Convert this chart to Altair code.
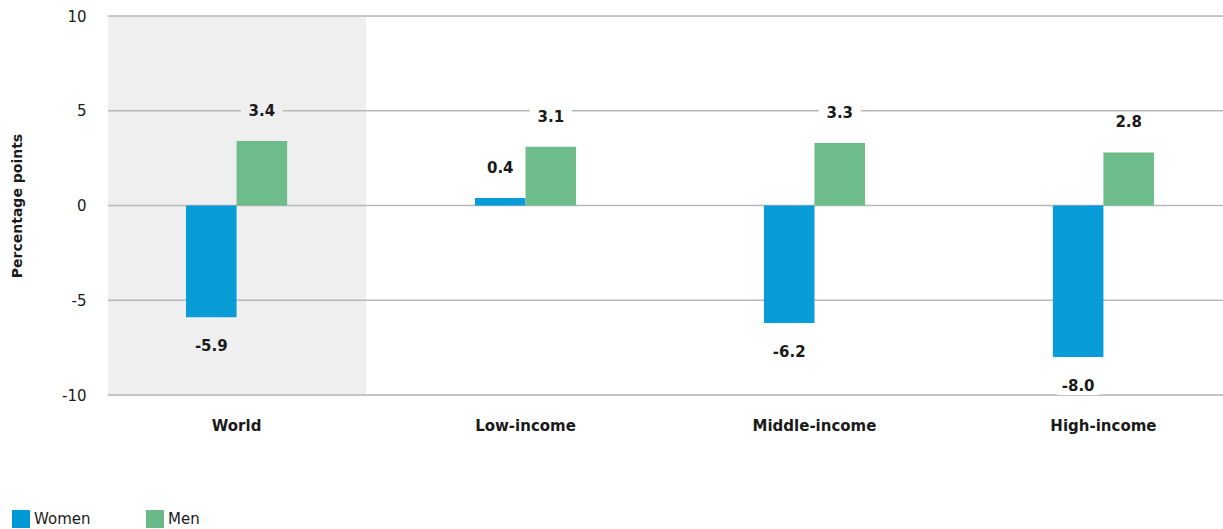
import altair as alt
import pandas as pd

groups = ["World", "Low-income", "Middle-income", "High-income"]
women = [-5.9, 0.4, -6.2, -8.0]
men = [3.4, 3.1, 3.3, 2.8]
y_ticks = [-10, -5, 0, 5, 10]

rows = []
for g, w, m in zip(groups, women, men):
    rows.append({"group": g, "sex": "Women", "value": w})
    rows.append({"group": g, "sex": "Men", "value": m})
df = pd.DataFrame(rows)
grid_df = pd.DataFrame({"tick": y_ticks})

W, H = 1115, 379
FONT = "DejaVu Sans"
BLUE = "#0099D8"
GREEN = "#69BA88"
TXT = "#1a1a1a"

x_enc = alt.X("group:N", sort=groups,
              scale=alt.Scale(paddingInner=0.65, paddingOuter=0.27, range=[0, 1124]),
              axis=alt.Axis(labelAngle=0, labelFontWeight="bold", labelFontSize=15,
                            labelFont=FONT, labelColor=TXT, ticks=False, domain=False,
                            labelPadding=23, grid=False),
              title=None)
y_scale = alt.Scale(domain=[-10, 10], nice=False, zero=True)
y_enc = alt.Y("value:Q", scale=y_scale,
              axis=alt.Axis(values=y_ticks, grid=False, ticks=False, domain=False,
                            labelFontSize=15, labelFont=FONT, labelColor=TXT,
                            labelExpr="replace(datum.label, '\u2212', '-')",
                            labelPadding=22, title="Percentage points",
                            titleFont=FONT, titleFontSize=14, titleFontWeight="bold",
                            titleColor=TXT, titleX=-84, titleY=H / 2))
xoff = alt.XOffset("sex:N", sort=["Women", "Men"])

bg = alt.Chart(df).mark_rect(color="#efefef").encode(
    x=alt.value(0), x2=alt.value(258), y=alt.value(0), y2=alt.value(H)
)

grid = alt.Chart(grid_df).mark_rule(color="#b8b8b8", strokeWidth=1.3).encode(
    y=alt.Y("tick:Q", scale=y_scale), x=alt.value(0), x2=alt.value(W)
)

bars = alt.Chart(df).mark_bar(opacity=0.97).encode(
    x=x_enc, xOffset=xoff, y=y_enc,
    color=alt.Color("sex:N", sort=["Women", "Men"],
                    scale=alt.Scale(domain=["Women", "Men"], range=[BLUE, GREEN]),
                    legend=alt.Legend(orient="none", legendX=-96, legendY=494,
                                      direction="horizontal", title=None,
                                      symbolType="square", symbolSize=324,
                                      symbolStrokeWidth=0, symbolOpacity=1,
                                      labelFontSize=15, labelFont=FONT, labelColor=TXT,
                                      labelOffset=4, columnPadding=55)),
)

box_shape = "M -1 -0.42 L 1 -0.42 L 1 0.42 L -1 0.42 Z"


def label_layers(cond, off):
    base = alt.Chart(df).transform_filter(cond).transform_calculate(
        lbl="replace(format(datum.value, '.1f'), '\u2212', '-')"
    )
    box = base.mark_point(shape=box_shape, filled=True, size=1764, opacity=1,
                          yOffset=off).encode(
        x=x_enc, xOffset=xoff, y=y_enc,
        color=alt.condition("datum.group == 'World'", alt.value("#efefef"),
                            alt.value("white")),
    )
    txt = base.mark_text(fontSize=15, fontWeight="bold", font=FONT, color=TXT,
                         baseline="middle", yOffset=off).encode(
        x=x_enc, xOffset=xoff, y=y_enc, text="lbl:N"
    )
    return box, txt


pbox, ptxt = label_layers("datum.value >= 0", -30)
nbox, ntxt = label_layers("datum.value < 0", 29)

chart = alt.layer(bg, grid, pbox, nbox, bars, ptxt, ntxt).properties(
    width=W, height=H,
    autosize=alt.AutoSizeParams(type="none"),
    padding={"left": 108, "top": 16, "right": 0, "bottom": 134},
).configure_view(stroke=None).configure(background="white")

chart.save("out.html", embed_options={"renderer": "svg", "actions": False})
